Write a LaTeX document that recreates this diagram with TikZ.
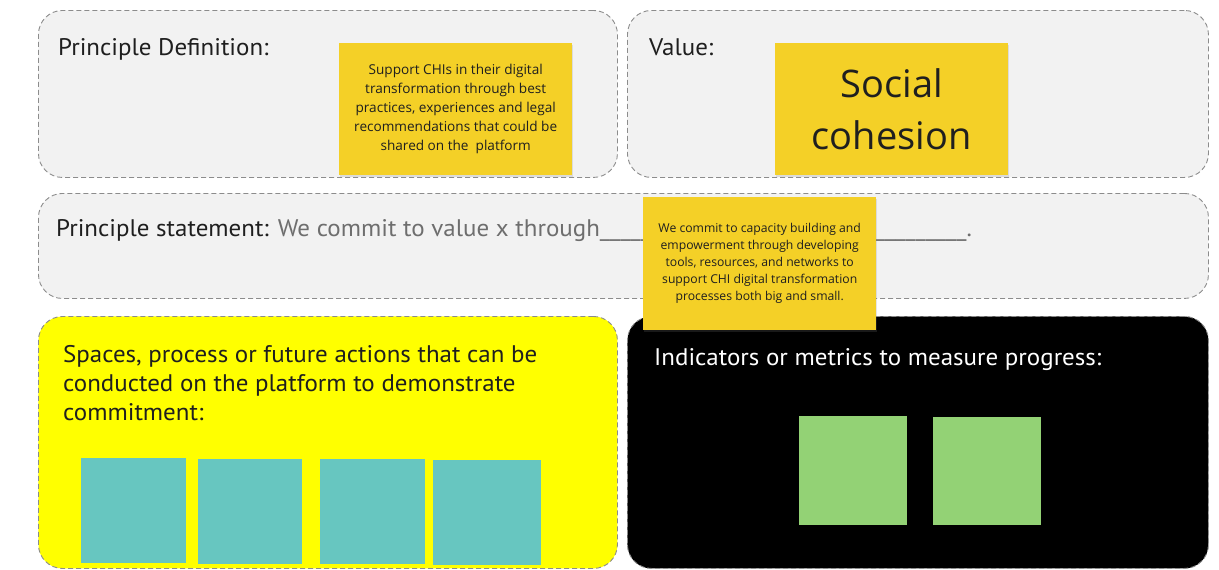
\documentclass[tikz,border=0pt]{standalone}
\usepackage{fontspec}
\setmainfont{Open Sans}
\newfontfamily\headfont[FakeStretch=1.04]{PT Sans}
\usetikzlibrary{shadows}

\definecolor{panelgray}{HTML}{F2F2F2}
\definecolor{borderline}{HTML}{8C8C8C}
\definecolor{stickyyellow}{HTML}{F4D027}
\definecolor{brightyellow}{HTML}{FFFF00}
\definecolor{stickyteal}{HTML}{67C6C0}
\definecolor{stickygreen}{HTML}{93D275}
\definecolor{inkdark}{HTML}{1F1F1F}
\definecolor{inkgray}{HTML}{6E6E6E}

\begin{document}
\begin{tikzpicture}[x=1pt, y=-1pt,
    panel/.style={draw=borderline, line width=0.9pt, dash pattern=on 5pt off 3pt,
        rounded corners=24pt, anchor=north west, inner sep=0pt},
    sticky/.style={fill=stickyyellow, anchor=north west, inner sep=0pt,
        minimum width=233pt, minimum height=132pt, align=center, text=inkdark,
        drop shadow={opacity=0.2, shadow xshift=1pt, shadow yshift=-2pt}},
    square/.style={anchor=north west, inner sep=0pt},
    headline/.style={anchor=base west, inner sep=0pt, text=inkdark,
        font=\headfont\fontsize{24}{29}\selectfont}]

    \useasboundingbox (0,0) rectangle (1219,570);

    % panels
    \node[panel, fill=panelgray, minimum width=579pt, minimum height=167pt] (defpanel) at (38,10) {};
    \node[panel, fill=panelgray, minimum width=581pt, minimum height=167pt] (valpanel) at (627,10) {};
    \node[panel, fill=panelgray, minimum width=1170pt, minimum height=105pt] (stmtpanel) at (38,193) {};
    \node[panel, fill=brightyellow, minimum width=579pt, minimum height=252pt] (actpanel) at (38,316) {};
    \node[panel, fill=black, minimum width=581pt, minimum height=252pt] (metpanel) at (627,316) {};

    % headings
    \node[headline] (deftitle) at (58,55) {Principle Definition:};
    \node[headline] (valtitle) at (649,55) {Value:};
    \node[headline] (stmttitle) at (56,236)
    {Principle statement: \textcolor{inkgray}{We commit to value x through\_\_\_\_\_\_\_\_\_\_\_\_\_\_\_\_\_\_\_\_\_\_\_\_\_\_\_\_\_\_\_\_\_\_\_\_.}};
    \node[headline, align=left] (acttitle) at (63,420)
    {Spaces, process or future actions that can be\\
     conducted on the platform to demonstrate\\
     commitment:};
    \node[headline, text=white] (mettitle) at (654,365) {Indicators or metrics to measure progress:};

    % sticky notes
    \node[sticky, font=\fontsize{13.6}{19}\selectfont] (defnote) at (339,43)
    {Support CHIs in their digital\\
     transformation through best\\
     practices, experiences and legal\\
     recommendations that could be\\
     shared on the\ \ platform};
    \node[sticky, font=\fontsize{38}{52}\selectfont] (valnote) at (775,43)
    {Social\\cohesion};
    \node[sticky, minimum height=133pt, font=\fontsize{12.2}{17}\selectfont] (stmtnote) at (643,197)
    {We commit to capacity building and\\
     empowerment through developing\\
     tools, resources, and networks to\\
     support CHI digital transformation\\
     processes both big and small.};

    % action squares
    \foreach \x/\y/\w/\name in {81/458/105/act1, 198/459/104/act2, 320/459/105/act3, 433/460/108/act4}{
        \node[square, fill=stickyteal, minimum width=\w pt, minimum height=105pt] (\name) at (\x,\y) {};
    }

    % metric squares
    \node[square, fill=stickygreen, minimum width=108pt, minimum height=109pt] (met1) at (799,416) {};
    \node[square, fill=stickygreen, minimum width=108pt, minimum height=108pt] (met2) at (933,417) {};
\end{tikzpicture}
\end{document}
